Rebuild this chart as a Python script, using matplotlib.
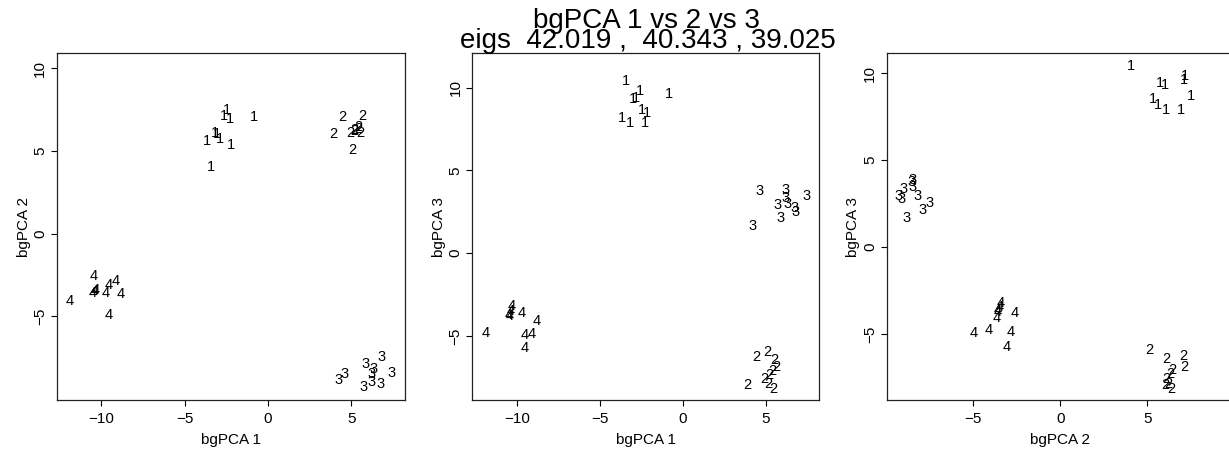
import numpy as np
import matplotlib.pyplot as plt

plt.rcParams['font.family'] = ['Liberation Sans', 'DejaVu Sans']

# Scores de los 40 individuos en los tres primeros ejes bgPCA (10 por grupo)
grupo = [1] * 10 + [2] * 10 + [3] * 10 + [4] * 10

pc1 = [-3.68, -3.43, -3.21, -3.05, -2.86, -2.62, -2.45, -2.29, -2.20, -0.83,
       4.44, 5.07, 5.52, 5.63, 5.40, 5.19, 4.94, 5.15, 3.89, 5.43,
       4.21, 4.62, 5.71, 5.88, 6.20, 6.22, 6.34, 6.74, 6.79, 7.43,
       -11.92, -9.58, -8.85, -9.55, -9.12, -10.48, -9.75, -10.34, -10.41, -10.50]

pc2 = [5.61, 4.05, 6.08, 6.01, 5.73, 7.14, 7.48, 6.93, 5.34, 7.07,
       7.04, 5.08, 6.06, 7.13, 6.42, 6.29, 6.10, 6.20, 6.05, 6.35,
       -8.85, -8.51, -9.27, -7.90, -8.50, -9.00, -8.18, -9.12, -7.48, -8.45,
       -4.08, -3.10, -3.65, -4.95, -2.87, -2.60, -3.60, -3.40, -3.48, -3.58]

pc3 = [8.16, 10.40, 7.90, 9.32, 9.40, 9.80, 8.66, 7.89, 8.48, 9.60,
       -6.28, -5.95, -6.43, -6.88, -7.10, -7.33, -7.58, -7.88, -7.96, -8.18,
       1.67, 3.76, 2.90, 2.10, 3.82, 3.32, 2.95, 2.73, 2.52, 3.45,
       -4.80, -5.75, -4.09, -4.93, -4.88, -3.81, -3.62, -3.21, -3.48, -3.75]

eigs = [42.019, 40.343, 39.025]

###############################################################################
def panel(ax, xs, ys, etiquetas, xlab, ylab, xlim, ylim, xticks, yticks):
    for x, y, g in zip(xs, ys, etiquetas):
        ax.text(x, y, str(g), ha='center', va='center', fontsize=10.5)
    ax.set_xlim(xlim)
    ax.set_ylim(ylim)
    ax.set_xticks(xticks)
    ax.set_yticks(yticks)
    ax.set_xlabel(xlab, fontsize=11, labelpad=5)
    ax.set_ylabel(ylab, fontsize=11, labelpad=2)
    ax.tick_params(direction='out', length=4.5, width=0.8, labelsize=11, pad=4,
                   top=False, right=False)
    ax.tick_params(axis='y', labelrotation=90, pad=2.5)
    for lab in ax.get_yticklabels():
        lab.set_va('center')
    for s in ax.spines.values():
        s.set_linewidth(0.9)
        s.set_color('#222222')

###############################################################################

fig = plt.figure(figsize=(12.29, 4.51), dpi=100)

ax1 = fig.add_axes([0.04638, 0.11308, 0.28316, 0.76940])
ax2 = fig.add_axes([0.38430, 0.11308, 0.28234, 0.76940])
ax3 = fig.add_axes([0.72148, 0.11308, 0.28234, 0.76940])

panel(ax1, pc1, pc2, grupo, 'bgPCA 1', 'bgPCA 2',
      (-12.66, 8.22), (-10.08, 10.93), [-10, -5, 0, 5], [-5, 0, 5, 10])
panel(ax2, pc1, pc3, grupo, 'bgPCA 1', 'bgPCA 3',
      (-12.72, 8.23), (-8.87, 12.1), [-10, -5, 0, 5], [-5, 0, 5, 10])
panel(ax3, pc2, pc3, grupo, 'bgPCA 2', 'bgPCA 3',
      (-9.96, 9.95), (-8.8, 11.15), [-5, 0, 5], [-5, 0, 5, 10])

fig.text(0.5256, 0.938, 'bgPCA 1 vs 2 vs 3', ha='center', va='baseline', fontsize=20)
fig.text(0.5275, 0.894, 'eigs  %.3f ,  %.3f , %.3f' % tuple(eigs),
         ha='center', va='baseline', fontsize=20)

fig.savefig('out.png', dpi=100)
